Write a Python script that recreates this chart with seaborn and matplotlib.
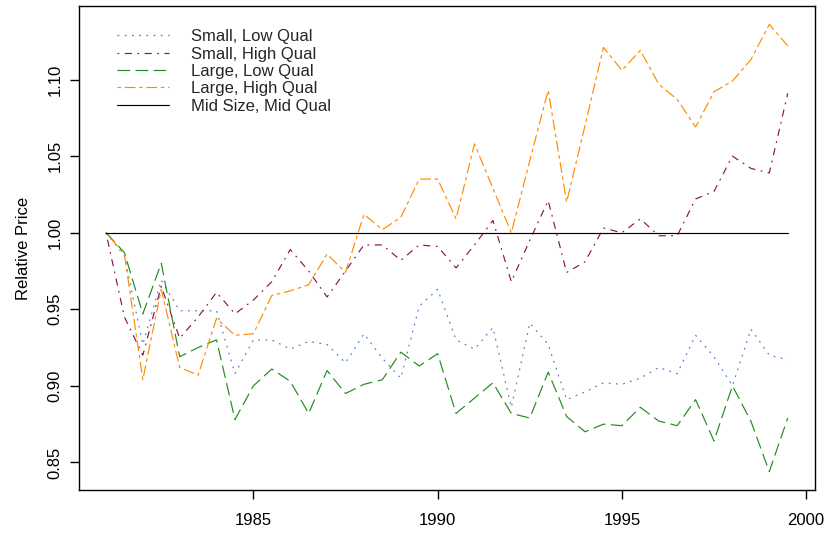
import numpy as np
import pandas as pd
import matplotlib
matplotlib.use("Agg")
import matplotlib.pyplot as plt
import seaborn as sns

# ---- data -------------------------------------------------------------
years = np.arange(1981.0, 2000.0, 0.5)  # semi-annual periods 1981.0 .. 1999.5

small_low = [1.000, 0.985, 0.927, 0.969, 0.949, 0.949, 0.949, 0.908, 0.930, 0.930,
             0.924, 0.929, 0.927, 0.915, 0.934, 0.918, 0.905, 0.952, 0.963, 0.930,
             0.924, 0.938, 0.886, 0.941, 0.927, 0.891, 0.896, 0.902, 0.901, 0.905,
             0.912, 0.908, 0.933, 0.919, 0.900, 0.937, 0.920, 0.917]
small_high = [1.000, 0.945, 0.920, 0.965, 0.931, 0.945, 0.961, 0.947, 0.956, 0.968,
              0.989, 0.975, 0.958, 0.975, 0.992, 0.992, 0.982, 0.992, 0.991, 0.977,
              0.992, 1.008, 0.968, 0.995, 1.021, 0.974, 0.981, 1.003, 1.000, 1.009,
              0.998, 0.998, 1.022, 1.027, 1.050, 1.042, 1.039, 1.091]
large_low = [1.000, 0.987, 0.947, 0.980, 0.919, 0.925, 0.930, 0.878, 0.900, 0.911,
             0.903, 0.882, 0.910, 0.895, 0.901, 0.904, 0.922, 0.913, 0.921, 0.882,
             0.892, 0.902, 0.882, 0.879, 0.909, 0.880, 0.870, 0.875, 0.874, 0.886,
             0.877, 0.874, 0.891, 0.864, 0.900, 0.877, 0.844, 0.879]
large_high = [1.000, 0.986, 0.904, 0.963, 0.912, 0.907, 0.944, 0.933, 0.934, 0.959,
              0.962, 0.966, 0.986, 0.974, 1.012, 1.002, 1.010, 1.035, 1.035, 1.009,
              1.058, 1.029, 1.000, 1.047, 1.093, 1.020, 1.070, 1.121, 1.106, 1.119,
              1.097, 1.087, 1.069, 1.092, 1.099, 1.113, 1.136, 1.122]
mid_mid = [1.000] * 38

series_names = ["Small, Low Qual", "Small, High Qual", "Large, Low Qual",
                "Large, High Qual", "Mid Size, Mid Qual"]
series_values = [small_low, small_high, large_low, large_high, mid_mid]

x_ticks = [1985, 1990, 1995, 2000]
y_ticks = [0.85, 0.90, 0.95, 1.00, 1.05, 1.10]
y_ticklabels = ["0.85", "0.90", "0.95", "1.00", "1.05", "1.10"]

# ---- style ------------------------------------------------------------
sns.set_theme(style="white")
plt.rcParams["font.family"] = ["Liberation Sans", "DejaVu Sans"]
plt.rcParams["lines.scale_dashes"] = False

u = 1.3  # dash unit (pt)
colors = ["#4F7FC0", "#8B1550", "#228B22", "#FF8C00", "#000000"]
styles = [(0, (u, 3 * u)),
          (0, (u, 3 * u, 4 * u, 3 * u)),
          (0, (7 * u, 3 * u)),
          (0, (2 * u, 2 * u, 6 * u, 2 * u)),
          "-"]

fig = plt.figure(figsize=(8.25, 5.33), dpi=100)
ax = fig.add_axes([78.7 / 825, 1 - 490 / 533, (815 - 78.7) / 825, (490 - 6) / 533])

for name, vals, col, ls in zip(series_names, series_values, colors, styles):
    df = pd.DataFrame({"year": years, "price": vals})
    sns.lineplot(data=df, x="year", y="price", ax=ax, color=col,
                 linestyle=ls, linewidth=0.85, label=name, legend=False)

ax.set_xlim(1980.26, 2000.24)
ax.set_ylim(0.832, 1.148)
ax.set_xticks(x_ticks)
ax.set_xticklabels([str(t) for t in x_ticks])
ax.set_yticks(y_ticks)
ax.set_yticklabels(y_ticklabels, rotation=90, va="center")

for sp in ax.spines.values():
    sp.set_visible(True)
    sp.set_color("black")
    sp.set_linewidth(1.0)

ax.tick_params(axis="both", which="major", direction="out", length=6.7,
               width=1.0, color="black", labelsize=12, labelcolor="black",
               bottom=True, left=True)
ax.tick_params(axis="x", pad=10)
ax.tick_params(axis="y", pad=5)

ax.set_xlabel("")
ax.set_ylabel("Relative Price", fontsize=12, color="black", labelpad=12)

leg = ax.legend(loc="upper left", bbox_to_anchor=(0.052, 0.952),
                frameon=False, fontsize=12, handlelength=3.1,
                handletextpad=1.35, labelspacing=0.14, borderpad=0,
                borderaxespad=0)

fig.savefig("out.png", dpi=100)
